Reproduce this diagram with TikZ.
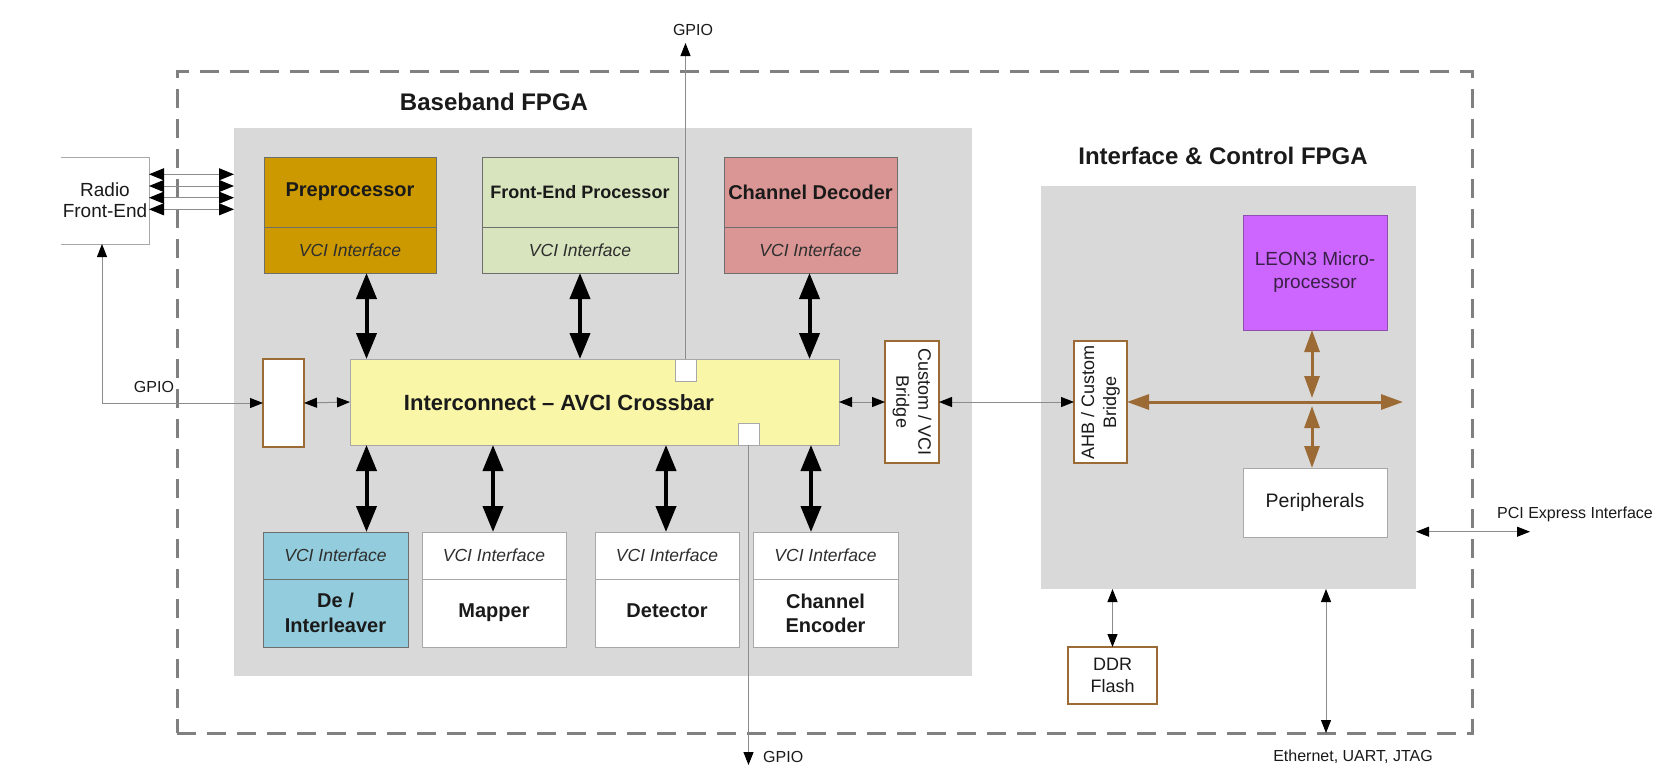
\documentclass[tikz,border=0pt]{standalone}
\usepackage{fontspec}
\setmainfont{Liberation Sans}
\usetikzlibrary{arrows.meta}
\definecolor{bggray}{HTML}{D9D9D9}
\definecolor{prefill}{HTML}{CC9900}
\definecolor{fefill}{HTML}{D7E4BD}
\definecolor{cdfill}{HTML}{DA9694}
\definecolor{difill}{HTML}{93CDDD}
\definecolor{xbfill}{HTML}{FAF6A8}
\definecolor{leonfill}{HTML}{CC66FF}
\definecolor{leonline}{HTML}{8E4FB0}
\definecolor{leontxt}{HTML}{3A2046}
\definecolor{brownc}{HTML}{9C6B35}
\definecolor{boxline}{HTML}{6E6E6E}
\definecolor{lightline}{HTML}{A8A8A8}
\definecolor{dashgray}{HTML}{808080}
\definecolor{linegray}{HTML}{8C8C8C}
\definecolor{txt}{HTML}{1A1A1A}
\definecolor{vcitxt}{HTML}{2E2E2E}
\begin{document}
\begin{tikzpicture}[x=1pt,y=-1pt,
  box/.style={draw=boxline,line width=0.8pt,inner sep=0pt,outer sep=0pt,align=center,text=txt},
  whitebox/.style={box,draw=lightline,fill=white},
  brbox/.style={draw=brownc,line width=2.5pt,fill=white,inner sep=0pt,outer sep=0pt,align=center,text=txt},
  bgbox/.style={fill=bggray,inner sep=0pt,outer sep=0pt},
  bigtitle/.style={font=\fontsize{24}{28}\selectfont\bfseries,text=txt},
  ttl/.style={font=\fontsize{20}{25}\selectfont\bfseries},
  vci/.style={font=\fontsize{17.5}{21}\selectfont\itshape,text=vcitxt},
  small/.style={font=\fontsize{16}{19}\selectfont,text=txt,inner sep=0pt},
  thinarrow/.style={draw=linegray,line width=1pt,{Triangle[length=13pt,width=10pt,color=black]}-{Triangle[length=13pt,width=10pt,color=black]}},
  thinone/.style={draw=linegray,line width=1pt,-{Triangle[length=13pt,width=10pt,color=black]}},
  radioarrow/.style={draw=linegray,line width=1pt,{Triangle[length=15pt,width=12pt,color=black]}-{Triangle[length=15pt,width=12pt,color=black]}},
  bigarrow/.style={draw=black,line width=4pt,{Triangle[length=26pt,width=20pt]}-{Triangle[length=26pt,width=20pt]}},
  brarrow/.style={draw=brownc,line width=3pt,{Triangle[length=22pt,width=15pt]}-{Triangle[length=22pt,width=15pt]}},
  outerbox/.style={draw=dashgray,line width=3pt,dash pattern=on 19pt off 11pt,inner sep=0pt,outer sep=0pt}
]
\useasboundingbox (0,0) rectangle (1661,764);
\fill[white] (0,0) rectangle (1661,764);

% frames
\node[outerbox,minimum width=1295pt,minimum height=662pt] (outer) at (824.5,402) {};
\node[bgbox,minimum width=738pt,minimum height=548pt] (bb) at (603,402) {};
\node[bgbox,minimum width=375pt,minimum height=403pt] (ic) at (1228.5,387.5) {};
\node[bigtitle] (bbt) at (494,102) {Baseband FPGA};
\node[bigtitle] (ict) at (1223,156) {Interface \& Control FPGA};

% radio front-end
\node[font=\fontsize{19}{21}\selectfont,text=txt,align=center,minimum width=88pt,minimum height=87pt,inner sep=0pt,outer sep=0pt] (radio) at (105,200.5) {Radio\\Front-End};
\draw[lightline,line width=0.8pt] (radio.north west) -- (radio.north east) -- (radio.south east) -- (radio.south west);

% top blocks
\node[box,fill=prefill,minimum width=172pt,minimum height=70pt,ttl] (pre) at (350,192) {\raisebox{5pt}{Preprocessor}};
\node[box,fill=prefill,minimum width=172pt,minimum height=46pt,vci] (previ) at (350,250) {VCI Interface};
\node[box,fill=fefill,minimum width=196pt,minimum height=70pt,font=\fontsize{18}{22}\selectfont\bfseries] (fe) at (580,192) {Front-End Processor};
\node[box,fill=fefill,minimum width=196pt,minimum height=46pt,vci] (fevi) at (580,250) {VCI Interface};
\node[box,fill=cdfill,minimum width=173pt,minimum height=70pt,ttl] (cd) at (810.5,192) {Channel Decoder};
\node[box,fill=cdfill,minimum width=173pt,minimum height=46pt,vci] (cdvi) at (810.5,250) {VCI Interface};

% crossbar
\node[box,draw=lightline,fill=xbfill,minimum width=489pt,minimum height=86pt] (xbar) at (594.5,402) {};
\node[font=\fontsize{22}{26}\selectfont\bfseries,text=txt] (xbt) at (559,402.5) {Interconnect – AVCI Crossbar};
\node[whitebox,minimum width=21pt,minimum height=22pt] (sq1) at (685.5,370) {};
\node[whitebox,minimum width=21pt,minimum height=22pt] (sq2) at (748.5,434) {};
\node[brbox,minimum width=41pt,minimum height=88pt] (lbox) at (283.5,403) {};
\node[brbox,minimum width=54pt,minimum height=122pt] (cvb) at (912,402) {};
\node[rotate=-90,font=\fontsize{18}{22}\selectfont,text=txt,align=center] (cvbt) at (cvb.center) {Custom / VCI\\Bridge};

% bottom blocks
\node[box,fill=difill,minimum width=145pt,minimum height=47pt,vci] (divi) at (335.5,555.5) {VCI Interface};
\node[box,fill=difill,minimum width=145pt,minimum height=68pt,ttl] (dit) at (335.5,613) {De /\\Interleaver};
\node[whitebox,minimum width=144pt,minimum height=47pt,vci] (mapvi) at (494,555.5) {VCI Interface};
\node[whitebox,minimum width=144pt,minimum height=68pt,ttl] (mapt) at (494,613) {\raisebox{5pt}{Mapper}};
\node[whitebox,minimum width=144pt,minimum height=47pt,vci] (detvi) at (667,555.5) {VCI Interface};
\node[whitebox,minimum width=144pt,minimum height=68pt,ttl] (dett) at (667,613) {\raisebox{5pt}{Detector}};
\node[whitebox,minimum width=145pt,minimum height=47pt,vci] (cevi) at (825.5,555.5) {VCI Interface};
\node[whitebox,minimum width=145pt,minimum height=68pt,font=\fontsize{20}{24}\selectfont\bfseries] (cet) at (825.5,613) {Channel\\Encoder};

% interface & control FPGA
\node[brbox,minimum width=53pt,minimum height=122pt] (ahb) at (1100.5,402) {};
\node[rotate=90,font=\fontsize{18}{22}\selectfont,text=txt,align=center] (ahbt) at (ahb.center) {AHB / Custom\\Bridge};
\node[box,draw=leonline,fill=leonfill,minimum width=144pt,minimum height=115pt,font=\fontsize{19}{23}\selectfont,text=leontxt] (leon) at (1315,272.5) {LEON3 Micro-\\processor};
\node[whitebox,minimum width=144pt,minimum height=69pt,font=\fontsize{19.5}{23}\selectfont] (per) at (1315,502.5) {Peripherals};
\node[brbox,minimum width=89pt,minimum height=57pt,font=\fontsize{18}{22}\selectfont] (ddr) at (1112.5,675.5) {DDR\\Flash};

% coordinates
\coordinate (ax1) at (366.5,0);
\coordinate (ax2) at (580,0);
\coordinate (ax3) at (809.5,0);
\coordinate (bx1) at (366.5,0);
\coordinate (bx2) at (493,0);
\coordinate (bx3) at (666,0);
\coordinate (bx4) at (811,0);
\coordinate (gx) at (102,0);
\coordinate (gtop) at (685.5,43);
\coordinate (gbot) at (748.5,765);
\coordinate (ex) at (1326,0);
\coordinate (eb) at (1326,733);
\coordinate (pcie) at (1530,531.7);
\coordinate (busend) at (1403,402);
\coordinate (brx) at (1312,0);

% bold crossbar arrows
\draw[bigarrow] (previ.south -| ax1) -- (xbar.north -| ax1);
\draw[bigarrow] (fevi.south -| ax2) -- (xbar.north -| ax2);
\draw[bigarrow] (cdvi.south -| ax3) -- (xbar.north -| ax3);
\draw[bigarrow] (xbar.south -| bx1) -- (divi.north -| bx1);
\draw[bigarrow] (xbar.south -| bx2) -- (mapvi.north -| bx2);
\draw[bigarrow] (xbar.south -| bx3) -- (detvi.north -| bx3);
\draw[bigarrow] (xbar.south -| bx4) -- (cevi.north -| bx4);

% thin connectors
\foreach \yy in {174.3,186,197.7,209.3}
  \draw[radioarrow] (radio.east |- 0,\yy) -- (bb.west |- 0,\yy);
\draw[thinarrow] (radio.south -| gx) |- (lbox.west);
\node[small] (gpiol) at (154,387) {GPIO};
\draw[thinarrow] (lbox.east) -- (xbar.west);
\draw[thinarrow] (xbar.east) -- (cvb.west);
\draw[thinarrow] (cvb.east) -- (ahb.west);
\draw[thinone] (sq1.north) -- (gtop);
\node[small] (gpiot) at (693,30) {GPIO};
\draw[thinone] (sq2.south) -- (gbot);
\node[small,anchor=west] (gpiob) at (763,757) {GPIO};
\draw[thinarrow] (ddr.north |- ic.south) -- (ddr.north);
\draw[thinarrow] (ic.south -| ex) -- (eb);
\node[small] (eth) at (1353,757) {Ethernet, UART, JTAG};
\draw[thinarrow] (ic.east |- pcie) -- (pcie);
\node[small] (pci) at (1575,514) {PCI Express Interface};

% brown bus
\draw[brarrow] (ahb.east) -- (busend);
\draw[brarrow,shorten >=4pt] (leon.south -| brx) -- (busend -| brx);
\draw[brarrow,shorten <=4pt] (busend -| brx) -- (per.north -| brx);
\end{tikzpicture}
\end{document}
